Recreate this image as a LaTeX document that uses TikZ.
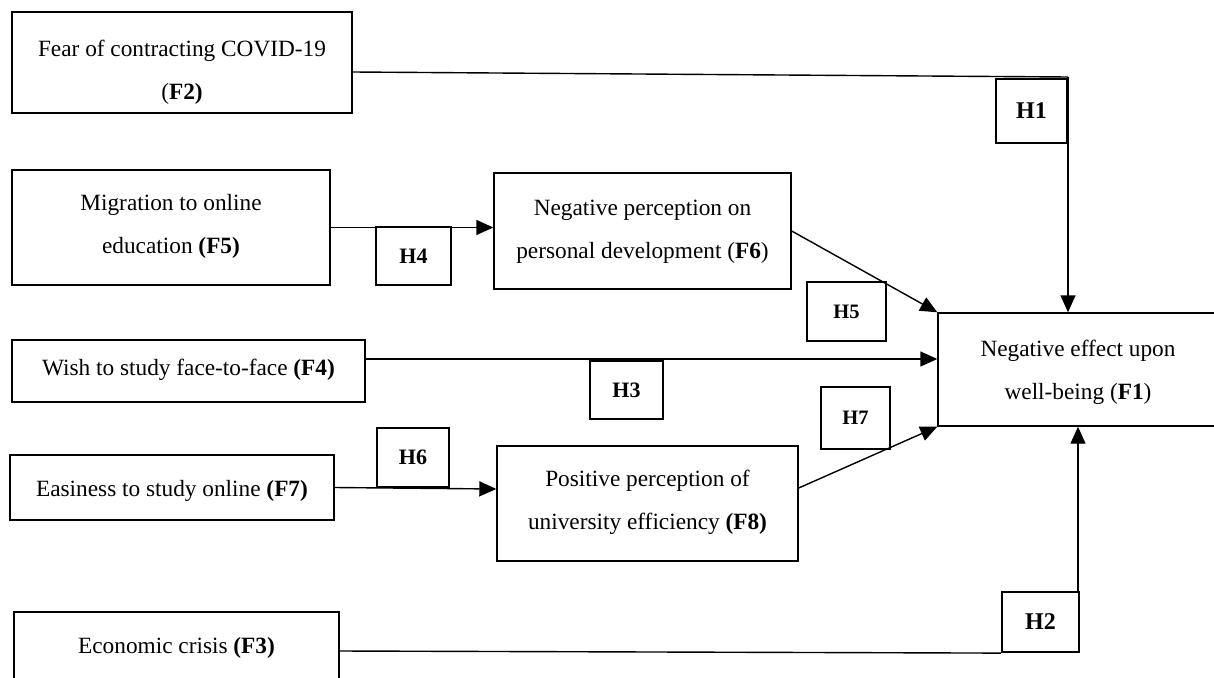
\documentclass[tikz,border=0pt]{standalone}
\usepackage{fontspec}
\setmainfont{Liberation Serif}
\usetikzlibrary{arrows.meta}
\newcommand\twoln[2]{\vtop{\halign{\hfil##\hfil\cr #1\cr #2\cr}}}
\begin{document}
\begin{tikzpicture}[x=1pt,y=-1pt,
  fbox/.style={draw, line width=1.4pt, inner sep=0pt, font=\fontsize{23.3}{43}\selectfont, text height=0pt, text depth=0pt},
  hbox/.style={draw, line width=2.2pt, inner sep=0pt, text depth=0pt},
  hbig/.style={hbox, font=\bfseries\fontsize{24}{28}\selectfont, text height=15.8pt},
  hmid/.style={hbox, font=\bfseries\fontsize{22}{26}\selectfont, text height=14.5pt},
  hsml/.style={hbox, font=\bfseries\fontsize{20.5}{24}\selectfont, text height=13.5pt},
  conn/.style={line width=1.4pt},
  arr/.style={conn, -{Triangle[length=17pt,width=15pt]}}]
\fill[white] (0,0) rectangle (1214,677);
\useasboundingbox (0,0) rectangle (1214,677);
% factor boxes
\node[fbox, minimum width=340pt, minimum height=101pt, text depth=12pt] (F2) at (182,62.5) {\twoln{Fear of contracting COVID-19}{(\textbf{F2)}}};
\node[fbox, minimum width=318pt, minimum height=115pt, text depth=35pt] (F5) at (171,227.5) {\twoln{Migration to online}{education \textbf{(F5)}}};
\node[fbox, minimum width=297pt, minimum height=116pt, text depth=32pt] (F6) at (642.5,231) {\twoln{Negative perception on}{personal development (\textbf{F6})}};
\node[fbox, minimum width=353pt, minimum height=62pt, text height=8pt] (F4) at (188.5,371) {Wish to study face-to-face \textbf{(F4)}};
\node[fbox, minimum width=324pt, minimum height=65pt, text height=17pt] (F7) at (172,487.5) {Easiness to study online \textbf{(F7)}};
\node[fbox, minimum width=301pt, minimum height=115pt, text depth=35pt] (F8) at (647.5,503.5) {\twoln{Positive perception of}{university efficiency \textbf{(F8)}}};
\node[fbox, minimum width=325pt, minimum height=88pt, text depth=6pt] (F3) at (176.5,656) {Economic crisis \textbf{(F3)}};
\node[fbox, minimum width=280pt, minimum height=113pt, text depth=27pt] (F1) at (1078,369.5) {\twoln{Negative effect upon}{well-being (\textbf{F1})}};
% hypothesis boxes
\node[hbig, minimum width=71pt, minimum height=64pt] (H1) at (1031.5,111) {H1};
\node[hmid, minimum width=75pt, minimum height=58pt] (H4) at (413.5,256) {H4};
\node[hsml, minimum width=79pt, minimum height=59pt] (H5) at (846.5,311.5) {H5};
\node[hmid, minimum width=73pt, minimum height=58pt] (H3) at (626.5,390) {H3};
\node[hsml, minimum width=69pt, minimum height=62pt] (H7) at (855.5,418) {H7};
\node[hmid, minimum width=72pt, minimum height=59pt] (H6) at (413,457.5) {H6};
\node[hbig, minimum width=77pt, minimum height=60pt] (H2) at (1040.5,622) {H2};
% connectors
\coordinate (c1) at (1068,77);
\draw[conn] ([yshift=-9.5pt]F2.east) -- (c1);
\draw[arr] (c1) -- (c1 |- F1.north);
\draw[arr] (F5.east) -- (F5.east -| F6.west);
\draw[arr] (F6.east) -- (F1.north west);
\coordinate (f4o) at ([yshift=12pt]F4.east);
\draw[arr] (f4o) -- (f4o -| F1.west);
\coordinate (f8i) at ([yshift=14.5pt]F8.west);
\draw[arr] (F7.east) -- (f8i);
\coordinate (f8o) at ([yshift=15.5pt]F8.east);
\draw[arr] (f8o) -- (F1.south west);
\coordinate (f3o) at ([yshift=5pt]F3.east);
\draw[conn] (f3o) -- (H2.south west);
\coordinate (c2) at (1078,592);
\draw[arr] (c2) -- (c2 |- F1.south);
\end{tikzpicture}
\end{document}
